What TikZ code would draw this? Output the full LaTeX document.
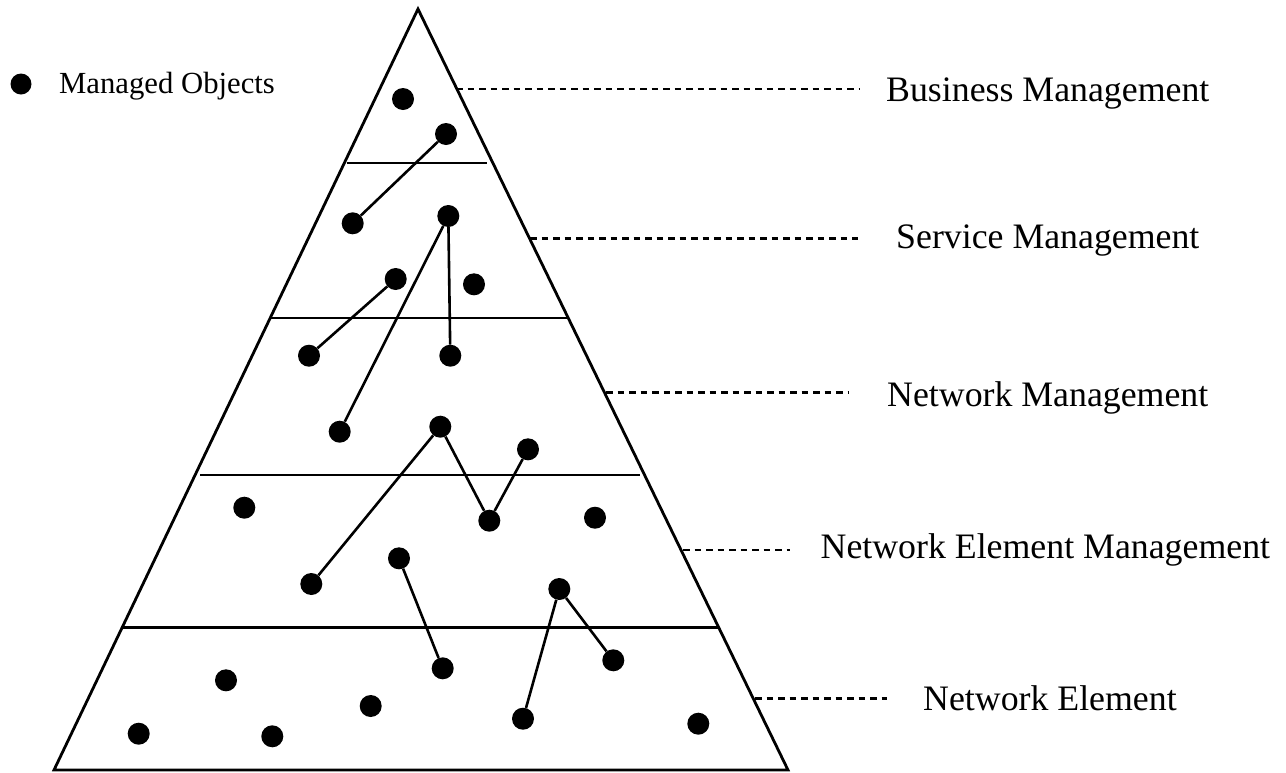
\documentclass[tikz,border=0pt]{standalone}
\usepackage{fontspec}
\setmainfont{Liberation Serif}
\usetikzlibrary{calc}
\begin{document}
\begin{tikzpicture}[x=1pt,y=-1pt,
  edge/.style={line width=2.8pt,line join=miter},
  link/.style={line width=2.6pt},
  mo/.style={circle,fill=black,draw=none,minimum size=22pt,inner sep=0pt},
  leader/.style={line width=2.6pt,dash pattern=on 6.5pt off 5pt},
  lbl/.style={anchor=base west,inner sep=0pt,font=\fontsize{35.8}{40}\selectfont}]
\useasboundingbox (0,0) rectangle (1286,772);

% pyramid outline
\coordinate (apex) at (418,9);
\coordinate (bl) at (54,770);
\coordinate (br) at (788,770);
\draw[edge] (apex) -- (bl) -- (br) -- cycle;

% layer dividers
\draw[edge] (347,163) -- (487,163);
\draw[edge] (271,318) -- (567,318);
\draw[edge] (200,475) -- (640,475);
\draw[edge] (123,627.5) -- (718,627.5);

% legend
\node[mo,minimum size=21pt] (key) at (21,84) {};
\node[anchor=base west,inner sep=0pt,font=\fontsize{30.7}{34}\selectfont] (keytext) at (59,93.3) {Managed Objects};

% managed objects: business layer
\node[mo] (b1) at (403,99) {};
\node[mo] (b2) at (446,134) {};
% service layer
\node[mo] (s1) at (352.7,223.3) {};
\node[mo] (s2) at (448.3,216) {};
\node[mo] (s3) at (395.7,279) {};
\node[mo] (s4) at (474,284.3) {};
% network layer
\node[mo] (n1) at (309,355.7) {};
\node[mo] (n2) at (450.3,355.7) {};
\node[mo] (n3) at (339.7,431.7) {};
\node[mo] (n4) at (440.3,426.7) {};
\node[mo] (n5) at (528,449.3) {};
% network element management layer
\node[mo] (e1) at (244.3,507.7) {};
\node[mo] (e2) at (489.3,520.7) {};
\node[mo] (e3) at (595,517.7) {};
\node[mo] (e4) at (399,558.3) {};
\node[mo] (e5) at (311.3,584) {};
\node[mo] (e6) at (559.3,589) {};
% network element layer
\node[mo] (f1) at (442.7,668.3) {};
\node[mo] (f2) at (226,680.3) {};
\node[mo] (f3) at (370.7,706) {};
\node[mo] (f4) at (138.7,733.7) {};
\node[mo] (f5) at (272.3,736.3) {};
\node[mo] (f6) at (613.3,660.3) {};
\node[mo] (f7) at (523,718.7) {};
\node[mo] (f8) at (698.3,723.7) {};

% relations between managed objects
\draw[link] (b2) -- (s1);
\draw[link] (s2) -- (n3);
\draw[link] (s2) -- (n2);
\draw[link] (s3) -- (n1);
\draw[link] (n4) -- (e5);
\draw[link] (n4) -- (e2);
\draw[link] (e2) -- (n5);
\draw[link] (e4) -- (f1);
\draw[link] (e6) -- (f7);
\draw[link] (e6) -- (f6);

% layer names with dashed leaders
\node[lbl] (bm) at (886,101.7) {Business Management};
\node[lbl] (sm) at (896,248) {Service Management};
\node[lbl] (nm) at (887,406) {Network Management};
\node[lbl] (nem) at (820.5,558.3) {Network Element Management};
\node[lbl] (ne) at (923,710.5) {Network Element};

\coordinate (bmA) at (456,89);    \coordinate (bmB) at (859,89);
\coordinate (smA) at (530,238.5); \coordinate (smB) at (858,238.5);
\coordinate (nmA) at (606,392.7); \coordinate (nmB) at (848,392.7);
\coordinate (nemA) at (683,550);  \coordinate (nemB) at (790,550);
\coordinate (neA) at (755,698.3); \coordinate (neB) at (887,698.3);
\draw[leader] (bmA) -- (bmB);
\draw[leader] (smA) -- (smB);
\draw[leader] (nmA) -- (nmB);
\draw[leader] (nemA) -- (nemB);
\draw[leader] (neA) -- (neB);
\end{tikzpicture}
\end{document}
